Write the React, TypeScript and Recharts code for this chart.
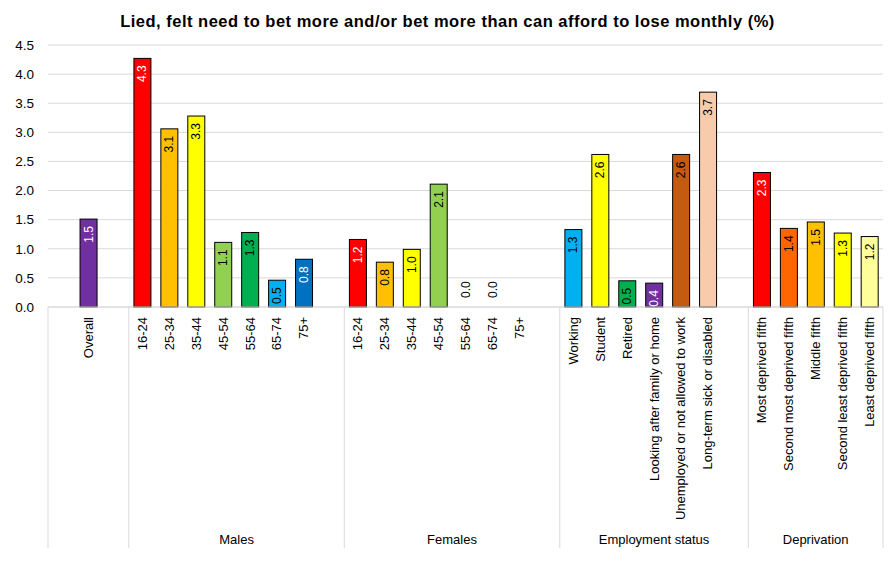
import React from "react";
import { BarChart, Bar, XAxis, YAxis, CartesianGrid } from "recharts";

const categories = [
  "", "Overall", "",
  "16-24", "25-34", "35-44", "45-54", "55-64", "65-74", "75+", "",
  "16-24", "25-34", "35-44", "45-54", "55-64", "65-74", "75+", "",
  "Working", "Student", "Retired", "Looking after family or home",
  "Unemployed or not allowed to work", "Long-term sick or disabled", "",
  "Most deprived fifth", "Second most deprived fifth", "Middle fifth",
  "Second least deprived fifth", "Least deprived fifth",
];

const groups = [
  "", "", "",
  "Males", "Males", "Males", "Males", "Males", "Males", "Males", "Males",
  "Females", "Females", "Females", "Females", "Females", "Females", "Females", "Females",
  "Employment status", "Employment status", "Employment status", "Employment status",
  "Employment status", "Employment status", "Employment status",
  "Deprivation", "Deprivation", "Deprivation", "Deprivation", "Deprivation",
];

const values: (number | null)[] = [
  null, 1.51, null,
  4.27, 3.06, 3.28, 1.11, 1.28, 0.46, 0.82, null,
  1.16, 0.77, 0.99, 2.11, 0, 0, null, null,
  1.33, 2.62, 0.45, 0.41, 2.62, 3.69, null,
  2.31, 1.35, 1.46, 1.27, 1.21,
];

const fills = [
  "#fff", "#7030A0", "#fff",
  "#FF0000", "#FFC000", "#FFFF00", "#92D050", "#00B050", "#00B0F0", "#0070C0", "#fff",
  "#FF0000", "#FFC000", "#FFFF00", "#92D050", "#00B050", "#00B0F0", "#0070C0", "#fff",
  "#00B0F0", "#FFFF00", "#00B050", "#7030A0", "#C55A11", "#F8CBAD", "#fff",
  "#FF0000", "#FF6600", "#FFC000", "#FFFF00", "#FFFF99",
];

const yTicks = [0, 0.5, 1, 1.5, 2, 2.5, 3, 3.5, 4, 4.5];

const FONT = "'Liberation Sans', Arial, sans-serif";
const W = 895;
const H = 579;
const Y_W = 48;
const RIGHT = 12;
const CAT_H = 200;
const GROUP_H = 41;
const PLOT_W = W - Y_W - RIGHT;
const SLOT = PLOT_W / categories.length;
const WHITE_TEXT = ["#FF0000", "#7030A0", "#0070C0"];

const data = categories.map((c, i) => ({
  label: c,
  group: groups[i],
  value: values[i],
  fill: fills[i],
}));

function CategoryTick(props: any) {
  const { x, y, payload } = props;
  const ty = y + 10;
  return (
    <text
      x={x}
      y={ty}
      transform={`rotate(-90 ${x} ${ty})`}
      textAnchor="end"
      dominantBaseline="central"
      fontSize={13}
      fontFamily={FONT}
      fill="#000"
    >
      {payload.value}
    </text>
  );
}

function GroupTick(props: any) {
  const { x, y, payload } = props;
  const i = payload.index;
  const g = groups[i];
  const isFirst = i === 0 || groups[i - 1] !== g;
  const isLast = i === groups.length - 1;
  let label = null;
  if (isFirst && g) {
    let last = i;
    while (last + 1 < groups.length && groups[last + 1] === g) last++;
    const cx = x + ((last - i) / 2) * SLOT;
    label = (
      <text x={cx} y={y + 37} textAnchor="middle" fontSize={13} fontFamily={FONT} fill="#000">
        {g}
      </text>
    );
  }
  return (
    <g>
      {isFirst && (
        <line x1={x - SLOT / 2} x2={x - SLOT / 2} y1={y - CAT_H} y2={y + GROUP_H} stroke="#D9D9D9" />
      )}
      {isLast && (
        <line x1={x + SLOT / 2} x2={x + SLOT / 2} y1={y - CAT_H} y2={y + GROUP_H} stroke="#D9D9D9" />
      )}
      {label}
    </g>
  );
}

// rect + rotated value label, drawn from the entry's own payload
function BarShape(props: any) {
  const { x, y, width, height } = props;
  const entry = props.payload ?? props;
  const value = entry.value;
  if (value == null) return null;
  const cx = x + width / 2;
  const text = Number(value).toFixed(1);
  if (!height) {
    const ty = y - 9;
    return (
      <text
        x={cx}
        y={ty}
        transform={`rotate(-90 ${cx} ${ty})`}
        textAnchor="start"
        dominantBaseline="central"
        fontSize={12}
        fontFamily={FONT}
        fill="#000"
      >
        {text}
      </text>
    );
  }
  const ty = y + 7;
  const color = WHITE_TEXT.includes(entry.fill) ? "#fff" : "#000";
  return (
    <g>
      <rect x={x} y={y} width={width} height={height} fill={entry.fill} stroke="#000" strokeWidth={1} />
      <text
        x={cx}
        y={ty}
        transform={`rotate(-90 ${cx} ${ty})`}
        textAnchor="end"
        dominantBaseline="central"
        fontSize={12}
        fontFamily={FONT}
        fill={color}
      >
        {text}
      </text>
    </g>
  );
}

export default function App() {
  return (
    <div style={{ position: "absolute", left: 0, top: 0, width: W, height: H, background: "#fff" }}>
      <div
        style={{
          position: "absolute",
          top: 12,
          left: 0,
          width: W,
          textAlign: "center",
          fontFamily: FONT,
          fontWeight: 700,
          fontSize: 16.5,
          letterSpacing: 0.5,
          color: "#000",
        }}
      >
        Lied, felt need to bet more and/or bet more than can afford to lose monthly (%)
      </div>
      <BarChart
        width={W}
        height={H}
        data={data}
        margin={{ top: 45, right: RIGHT, left: 0, bottom: H - 45 - 262 - CAT_H - GROUP_H }}
        barCategoryGap="19%"
      >
        <CartesianGrid vertical={false} stroke="#D9D9D9" />
        <XAxis
          dataKey="label"
          interval={0}
          height={CAT_H}
          tick={<CategoryTick />}
          tickLine={false}
          tickSize={0}
          tickMargin={0}
          axisLine={{ stroke: "#D9D9D9" }}
        />
        <XAxis
          xAxisId="group"
          dataKey="group"
          interval={0}
          height={GROUP_H}
          tick={<GroupTick />}
          tickLine={false}
          tickSize={0}
          tickMargin={0}
          axisLine={false}
        />
        <YAxis
          width={Y_W}
          domain={[0, 4.5]}
          ticks={yTicks}
          tickFormatter={(v: number) => v.toFixed(1)}
          axisLine={false}
          tickLine={false}
          tickSize={0}
          tickMargin={14}
          tick={{ fontSize: 13.5, fontFamily: FONT, fill: "#000" }}
        />
        <Bar dataKey="value" shape={BarShape} isAnimationActive={false} />
      </BarChart>
    </div>
  );
}
